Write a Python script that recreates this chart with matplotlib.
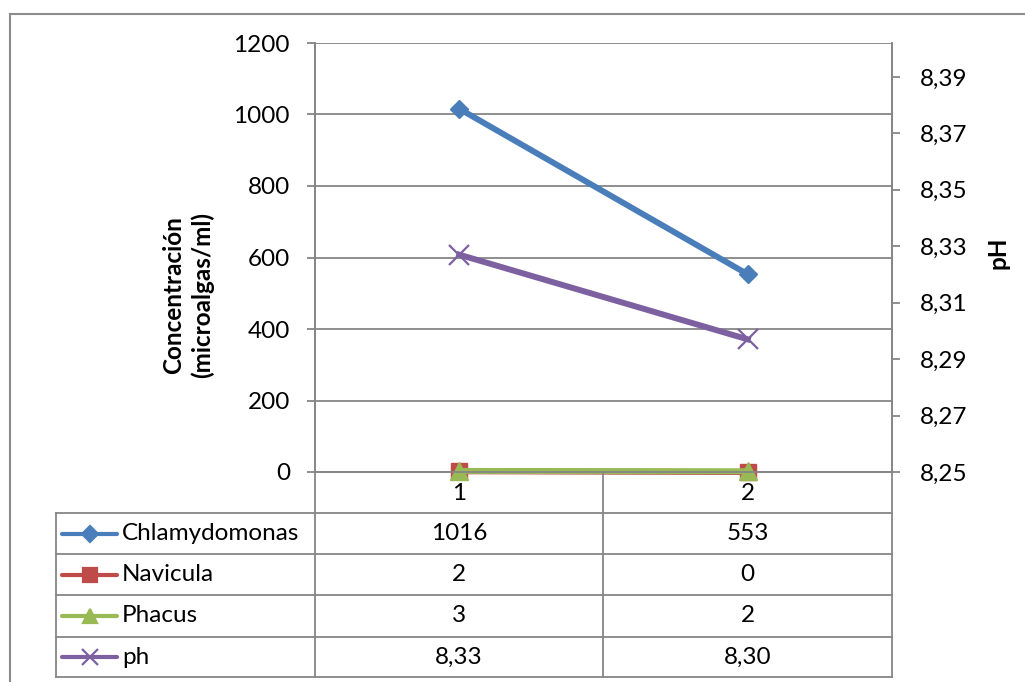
import numpy as np
import matplotlib
matplotlib.use("Agg")
import matplotlib.pyplot as plt
from matplotlib.lines import Line2D
from matplotlib.ticker import FixedLocator, FuncFormatter

plt.rcParams['font.family'] = ['Lato', 'DejaVu Sans']

# data
categories = [1, 2]
series_names = ['Chlamydomonas', 'Navicula', 'Phacus', 'ph']
chlamydomonas = [1016, 553]
navicula = [2, 0]
phacus = [3, 2]
ph = [8.327, 8.297]
ph_ticks = [8.25, 8.27, 8.29, 8.31, 8.33, 8.35, 8.37, 8.39]
conc_ticks = [0, 200, 400, 600, 800, 1000, 1200]

colors = ['#4A7EBB', '#BE4B48', '#98B954', '#7D60A0']
markers = ['D', 's', '^', 'x']
grid_c = '#868686'
fs = 17.5

W, H = 1025, 682
fig = plt.figure(figsize=(W / 100, H / 100), dpi=100)

def fx(px):
    return px / W

def fy(py):
    return 1 - py / H

# plot area in pixels
L, R, T, B = 315, 892, 43, 472
ax = fig.add_axes([fx(L), fy(B), fx(R) - fx(L), fy(T) - fy(B)])
ax2 = ax.twinx()

x = np.arange(len(categories))
ax.plot(x, chlamydomonas, color=colors[0], lw=4.3, marker='D', ms=9.5, zorder=3, clip_on=False)
ax.plot(x, navicula, color=colors[1], lw=4.3, marker='s', ms=11.5, zorder=3, clip_on=False)
ax.plot(x, phacus, color=colors[2], lw=4.3, marker='^', ms=13, zorder=4, clip_on=False)
ax2.plot(x, ph, color=colors[3], lw=4.3, marker='x', ms=14, mew=1.6, zorder=3, clip_on=False)

ax.set_xlim(-0.5, 1.5)
ax.set_ylim(0, 1200)
ax.yaxis.set_major_locator(FixedLocator(conc_ticks))
ax.grid(axis='y', color=grid_c, lw=1.3)
ax.set_axisbelow(True)
ax.set_xticks([])
ax2.set_ylim(8.25, 8.402)
ax2.yaxis.set_major_locator(FixedLocator(ph_ticks))
ax2.yaxis.set_major_formatter(FuncFormatter(lambda v, p: f"{v:.2f}".replace('.', ',')))

for a in (ax, ax2):
    for s in a.spines.values():
        s.set_color(grid_c)
        s.set_linewidth(1.3)
    a.spines['top'].set_visible(False)
    a.tick_params(axis='y', colors=grid_c, labelcolor='black', labelsize=fs,
                  length=6, width=1.3, pad=12)
ax2.tick_params(axis='y', pad=14)

fig.text(fx(188), fy(295), 'Concentración\n(microalgas/ml)', rotation=90,
         fontsize=fs, fontweight='bold', ha='center', va='center',
         linespacing=1.25)
fig.text(fx(998), fy(253), 'pH', rotation=90, fontsize=fs, fontweight='bold',
         ha='center', va='center')

# outer frame
fig.add_artist(Line2D([fx(10), fx(10)], [fy(14), fy(H + 5)], color='#8C8C8C', lw=1.5))
fig.add_artist(Line2D([fx(10), fx(W + 5)], [fy(14), fy(14)], color='#8C8C8C', lw=1.5))

# data table
row_y = [472, 512.7, 554.3, 595.3, 636.7, 677.3]
col_x = [55.7, L, 603, R]
for yy in row_y[1:]:
    fig.add_artist(Line2D([fx(col_x[0]), fx(R)], [fy(yy), fy(yy)], color=grid_c, lw=1.3))
fig.add_artist(Line2D([fx(col_x[0])] * 2, [fy(row_y[1]), fy(row_y[-1])], color=grid_c, lw=1.3))
for xx in col_x[1:]:
    fig.add_artist(Line2D([fx(xx)] * 2, [fy(row_y[0]), fy(row_y[-1])], color=grid_c, lw=1.3))

col_c = [(col_x[1] + col_x[2]) / 2, (col_x[2] + col_x[3]) / 2]
for j, c in enumerate(categories):
    fig.text(fx(col_c[j]), fy((row_y[0] + row_y[1]) / 2 + 1), str(c), fontsize=fs,
             ha='center', va='center')

table_vals = [
    [str(v) for v in chlamydomonas],
    [str(v) for v in navicula],
    [str(v) for v in phacus],
    [f"{v:.2f}".replace('.', ',') for v in ph],
]
key_ms = [8, 10, 10, 12]
for i, name in enumerate(series_names):
    yc = fy((row_y[i + 1] + row_y[i + 2]) / 2)
    fig.add_artist(Line2D([fx(62), fx(117)], [yc, yc], color=colors[i], lw=3,
                          solid_capstyle='round'))
    fig.add_artist(Line2D([fx(89.5)], [yc], color=colors[i], marker=markers[i],
                          ms=key_ms[i], mew=1.6, lw=0))
    fig.text(fx(122), yc, name, fontsize=fs, ha='left', va='center')
    for j in range(len(categories)):
        fig.text(fx(col_c[j]), yc, table_vals[i][j], fontsize=fs,
                 ha='center', va='center')

fig.savefig('out.png', dpi=100)
